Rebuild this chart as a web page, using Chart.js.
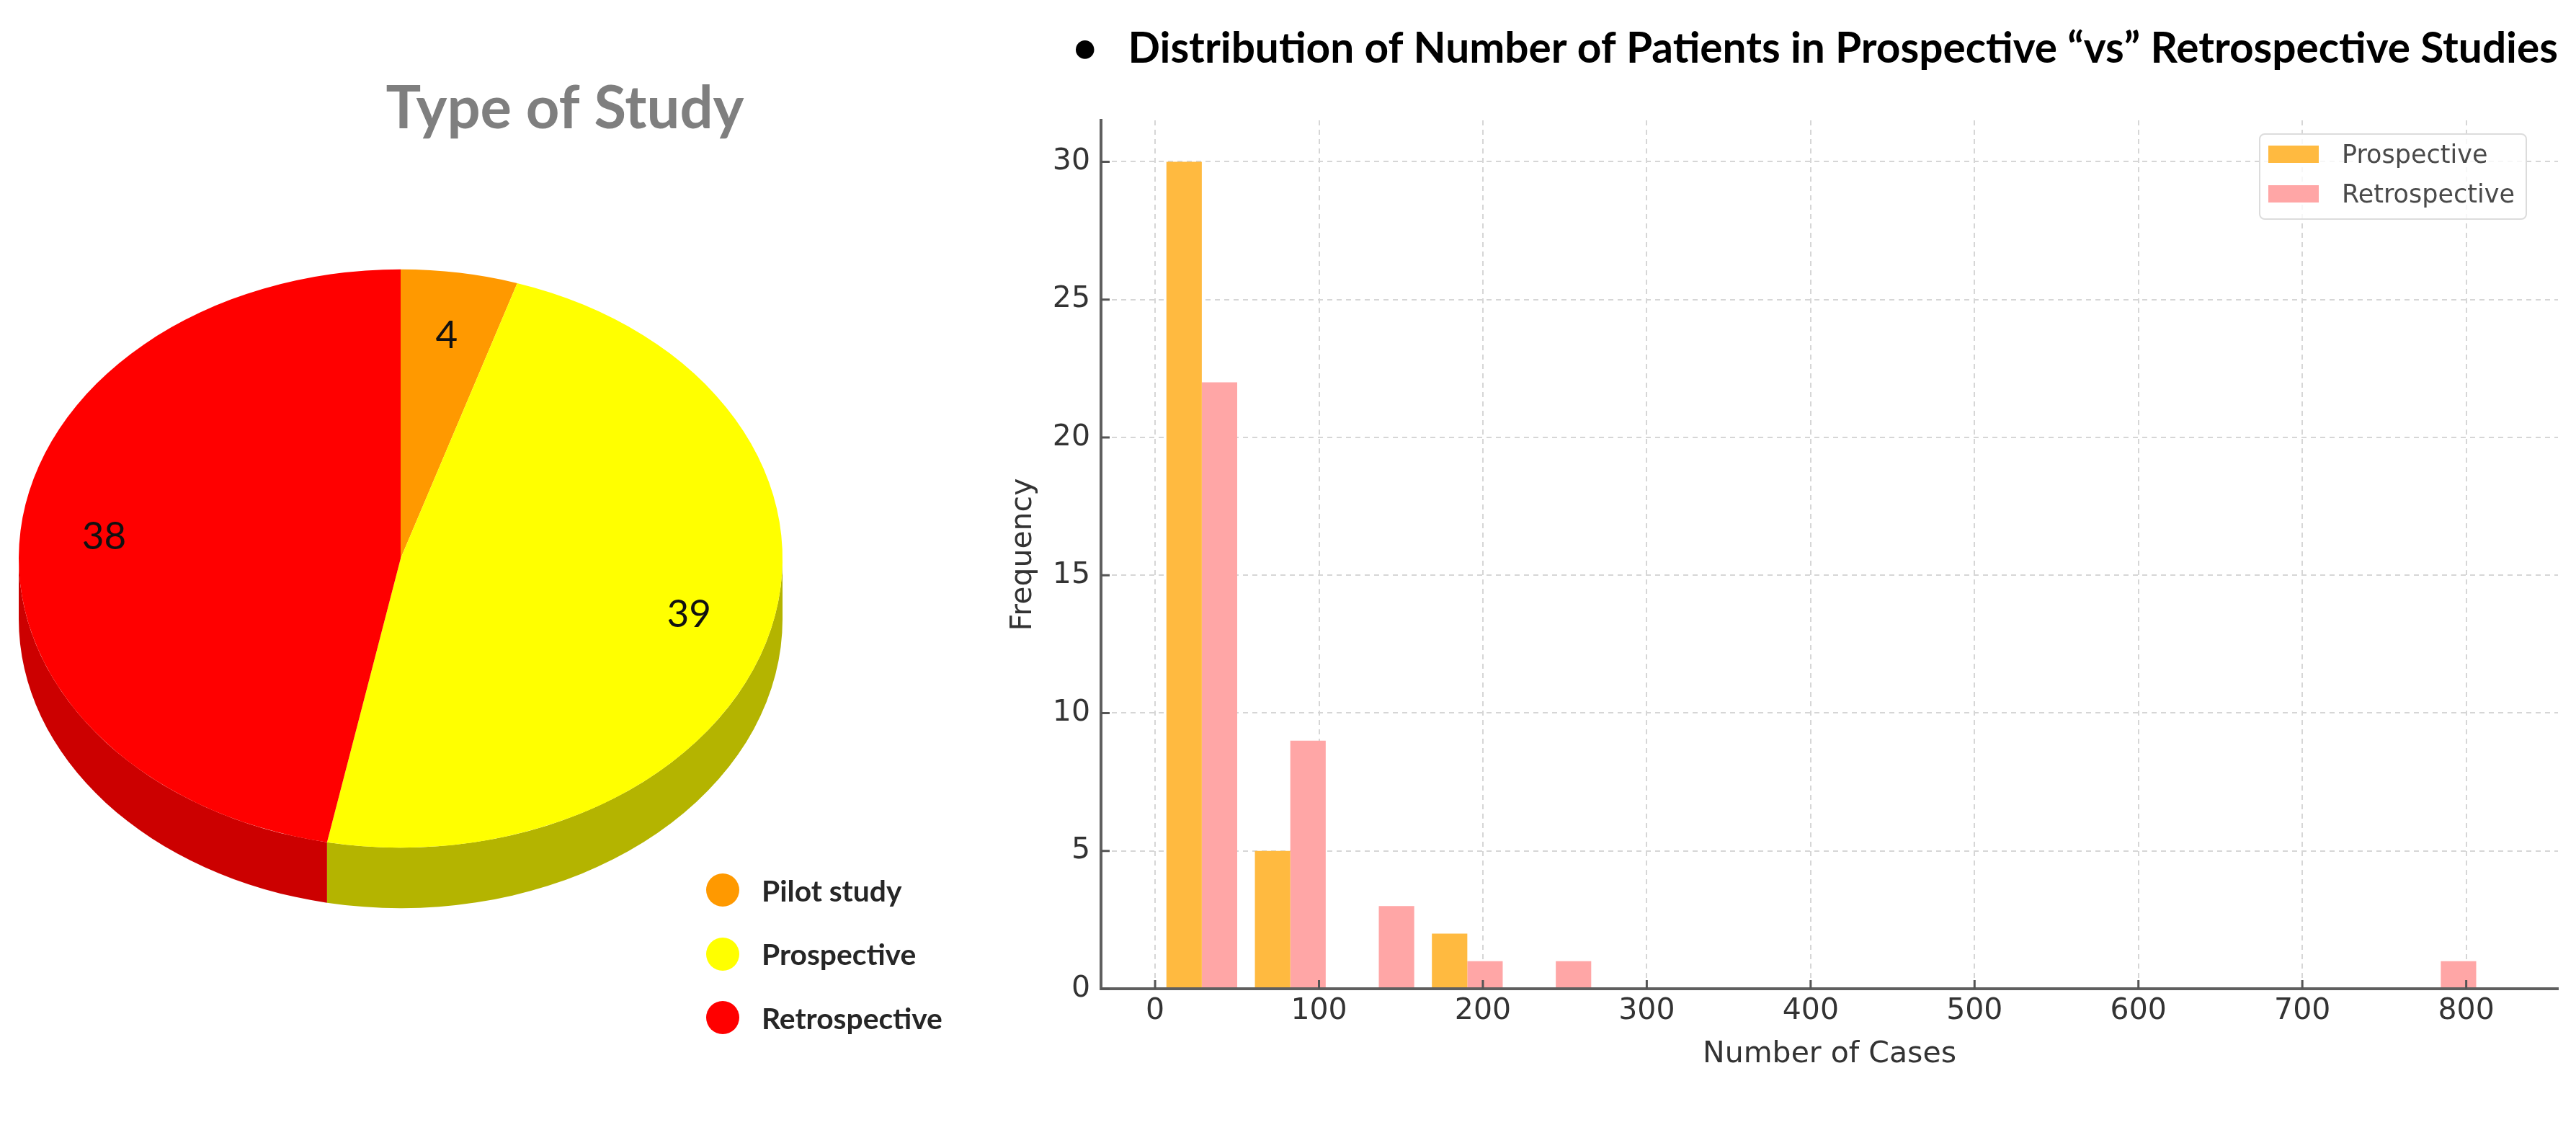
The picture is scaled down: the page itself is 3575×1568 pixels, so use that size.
<!DOCTYPE html>
<html>
<head>
<meta charset="utf-8">
<title>Type of Study / Patients per study</title>
<script src="https://cdn.jsdelivr.net/npm/chart.js@4.4.1/dist/chart.umd.min.js"></script>
<style>
  html, body { margin: 0; padding: 0; background: #fff; }
  #page { position: relative; width: 3575px; height: 1568px; overflow: hidden; background: #fff; }
  #pieChart { position: absolute; left: 0; top: 0; }
  #histChart { position: absolute; left: 1380px; top: 0; }
  .pie-legend { position: absolute; left: 980px; top: 0; font-family: Lato, sans-serif; font-weight: 700; color: #262626; }
  .pie-legend .row { position: absolute; left: 0; height: 60px; display: flex; align-items: center; white-space: nowrap; }
  .pie-legend .dot { width: 46px; height: 46px; border-radius: 50%; margin-right: 31px; flex: none; }
  .hist-legend { position: absolute; left: 3135px; top: 185px; width: 372px; height: 120px; box-sizing: border-box;
    border: 2px solid #dcdcdc; border-radius: 8px; background: rgba(255,255,255,0.8);
    font-family: "DejaVu Sans", sans-serif; font-size: 35px; color: #4a4a4a; }
  .hist-legend .row { position: absolute; left: 11px; height: 55px; display: flex; align-items: center; white-space: nowrap; }
  .hist-legend .swatch { width: 70px; height: 24px; margin-right: 32px; flex: none; }
</style>
</head>
<body>
<div id="page">
  <canvas id="pieChart" width="1568" height="1568"></canvas>
  <canvas id="histChart" width="2195" height="1568"></canvas>
  <div id="pieLegend" class="pie-legend"></div>
  <div id="histLegend" class="hist-legend"></div>
</div>
<script>
// ---- data: type of study (pie) ----
const studyTypes = ['Pilot study', 'Prospective', 'Retrospective'];
const studyCounts = [4, 39, 38];
const studyColors = ['#FF9900', '#FFFF00', '#FF0000'];
const studySideColors = ['#C87800', '#B4B400', '#CC0000'];

// ---- data: histogram of number of cases ----
const caseBinCenters = [28.5, 82.5, 136.5, 190.5, 244.5, 298.5, 352.5, 406.5, 460.5, 514.5, 568.5, 622.5, 676.5, 730.5, 784.5];
const prospectiveFreq = [30, 5, 0, 2, 0, 0, 0, 0, 0, 0, 0, 0, 0, 0, 0];
const retrospectiveFreq = [22, 9, 3, 1, 1, 0, 0, 0, 0, 0, 0, 0, 0, 0, 1];
const caseTicks = [0, 100, 200, 300, 400, 500, 600, 700, 800];
const freqTicks = [0, 5, 10, 15, 20, 25, 30];

const PIE_SHIFT_X = -228;   // pie sits left of the title centre
const PIE_CENTER_Y = 775;
const PIE_TILT = 0.757;     // squash for the 3d look
const PIE_DEPTH = 84;
const LABEL_RADIUS = 0.78;

function fitFontSize(text, weight, family, targetWidth) {
  const c = document.createElement('canvas').getContext('2d');
  c.font = weight + ' 100px ' + family;
  return 100 * targetWidth / c.measureText(text).width;
}

// ---------------- pie ----------------
const pieTitleSize = fitFontSize('Type of Study', 'bold', 'Lato', 497);
const pieTitleLine = pieTitleSize * 1.2;
const pieTitleTop = 152 - pieTitleLine / 2;

const tiltPlugin = {
  id: 'tilt3d',
  beforeDatasetsDraw(chart) {
    const ctx = chart.ctx;
    const arcs = chart.getDatasetMeta(0).data;
    const cx = arcs[0].x, cy = arcs[0].y, r = arcs[0].outerRadius;
    const ex = cx + PIE_SHIFT_X, ry = r * PIE_TILT;
    // side wall, only the front half shows
    arcs.forEach((arc, i) => {
      const a0 = Math.max(arc.startAngle, 0);
      const a1 = Math.min(arc.endAngle, Math.PI);
      if (a1 <= a0) return;
      ctx.beginPath();
      ctx.ellipse(ex, cy, r, ry, 0, a0, a1, false);
      ctx.ellipse(ex, cy + PIE_DEPTH, r, ry, 0, a1, a0, true);
      ctx.closePath();
      ctx.fillStyle = studySideColors[i];
      ctx.fill();
    });
    ctx.save();
    ctx.translate(ex, cy);
    ctx.scale(1, PIE_TILT);
    ctx.translate(-cx, -cy);
  },
  afterDatasetsDraw(chart) {
    const ctx = chart.ctx;
    ctx.restore();
    const arcs = chart.getDatasetMeta(0).data;
    const cx = arcs[0].x, cy = arcs[0].y, r = arcs[0].outerRadius;
    const ex = cx + PIE_SHIFT_X;
    ctx.save();
    ctx.font = '53px Lato';
    ctx.fillStyle = '#111';
    ctx.textAlign = 'center';
    ctx.textBaseline = 'middle';
    arcs.forEach((arc, i) => {
      const mid = (arc.startAngle + arc.endAngle) / 2;
      const d = r * LABEL_RADIUS;
      ctx.fillText(String(chart.data.datasets[0].data[i]), ex + Math.cos(mid) * d, cy + Math.sin(mid) * d * PIE_TILT);
    });
    ctx.restore();
  }
};

const pieChart = new Chart(document.getElementById('pieChart'), {
  type: 'pie',
  data: {
    labels: studyTypes,
    datasets: [{
      data: studyCounts,
      backgroundColor: studyColors,
      borderWidth: 0,
      hoverOffset: 0,
      offset: 0,
      clip: false
    }]
  },
  options: {
    responsive: false,
    animation: false,
    events: [],
    layout: { padding: { left: 254, right: 254, top: 0, bottom: 1568 - (2 * PIE_CENTER_Y - (pieTitleTop + pieTitleLine)) } },
    plugins: {
      legend: { display: false },
      tooltip: { enabled: false },
      title: {
        display: true,
        text: 'Type of Study',
        color: '#7F7F7F',
        font: { family: 'Lato', size: pieTitleSize, weight: 'bold', lineHeight: 1.2 },
        padding: { top: pieTitleTop, bottom: 0 }
      }
    }
  },
  plugins: [tiltPlugin]
});

// html legend for the pie
const pieLegend = document.getElementById('pieLegend');
pieLegend.style.fontSize = fitFontSize('Retrospective', 'bold', 'Lato', 251) + 'px';
studyTypes.forEach((label, i) => {
  const row = document.createElement('div');
  row.className = 'row';
  row.style.top = (1235 + i * 88.5 - 30) + 'px';
  const dot = document.createElement('span');
  dot.className = 'dot';
  dot.style.background = pieChart.data.datasets[0].backgroundColor[i];
  const txt = document.createElement('span');
  txt.textContent = label;
  row.appendChild(dot);
  row.appendChild(txt);
  pieLegend.appendChild(row);
});

// ---------------- histogram ----------------
const histTitleText = 'Distribution of Number of Patients in Prospective \u201Cvs\u201D Retrospective Studies';
const histTitleSize = fitFontSize(histTitleText, 'bold', 'Lato', 1985);
const mctx = document.createElement('canvas').getContext('2d');
mctx.font = 'bold ' + histTitleSize + 'px Lato';
const bulletW = mctx.measureText('\u2022').width;
const spaceW = mctx.measureText(' ').width;
const nSpaces = Math.max(1, Math.round((64 - bulletW / 2) / spaceW));
const histTitleLine = histTitleSize * 1.2;

const axisFont = { family: 'DejaVu Sans', size: 41 };

const innerTicks = {
  id: 'innerTicks',
  afterDraw(chart) {
    const { ctx, chartArea, scales: { x, y } } = chart;
    ctx.save();
    ctx.strokeStyle = '#555';
    ctx.lineWidth = 3;
    ctx.beginPath();
    x.ticks.forEach((t, i) => {
      const px = x.getPixelForTick(i);
      ctx.moveTo(px, chartArea.bottom);
      ctx.lineTo(px, chartArea.bottom - 12);
    });
    y.ticks.forEach((t, i) => {
      const py = y.getPixelForTick(i);
      ctx.moveTo(chartArea.left, py);
      ctx.lineTo(chartArea.left + 12, py);
    });
    ctx.stroke();
    ctx.restore();
  }
};

const histChart = new Chart(document.getElementById('histChart'), {
  type: 'bar',
  data: {
    datasets: [
      {
        label: 'Prospective',
        data: caseBinCenters.map((c, i) => ({ x: c, y: prospectiveFreq[i] })),
        backgroundColor: '#FFBA40',
        borderWidth: 0,
        categoryPercentage: 0.8,
        barPercentage: 1.0
      },
      {
        label: 'Retrospective',
        data: caseBinCenters.map((c, i) => ({ x: c, y: retrospectiveFreq[i] })),
        backgroundColor: '#FFA6A6',
        borderWidth: 0,
        categoryPercentage: 0.8,
        barPercentage: 1.0
      }
    ]
  },
  options: {
    responsive: false,
    animation: false,
    events: [],
    layout: { padding: { left: 0, right: 25, top: 0, bottom: 66 } },
    plugins: {
      legend: { display: false },
      tooltip: { enabled: false },
      title: {
        display: true,
        align: 'end',
        text: '\u2022' + ' '.repeat(nSpaces) + histTitleText,
        color: '#000',
        font: { family: 'Lato', size: histTitleSize, weight: 'bold', lineHeight: 1.2 },
        padding: { top: 68 - histTitleLine / 2, bottom: 167 - 68 - histTitleLine / 2 }
      }
    },
    scales: {
      x: {
        type: 'linear',
        min: -33,
        max: 856,
        offset: false,
        afterBuildTicks: s => { s.ticks = caseTicks.map(v => ({ value: v })); },
        afterFit: s => { s.height = 130; },
        grid: { color: '#d6d6d6', lineWidth: 2, drawTicks: false, offset: false },
        border: { display: true, color: '#5f5f5f', width: 4, dash: [7, 6], z: 1 },
        ticks: { color: '#333', font: axisFont, padding: 7, maxRotation: 0, autoSkip: false },
        title: { display: true, text: 'Number of Cases', color: '#333', font: axisFont, padding: { top: 0, bottom: 14 } }
      },
      y: {
        min: 0,
        max: 31.5,
        afterBuildTicks: s => { s.ticks = freqTicks.map(v => ({ value: v })); },
        afterFit: s => { s.width = 148; },
        grid: { color: '#d6d6d6', lineWidth: 2, drawTicks: false },
        border: { display: true, color: '#5f5f5f', width: 4, dash: [7, 6], z: 1 },
        ticks: { color: '#333', font: axisFont, padding: 15 },
        title: { display: true, text: 'Frequency', color: '#333', font: axisFont, padding: { top: 16, bottom: 0 } }
      }
    }
  },
  plugins: [innerTicks]
});

// html legend for the histogram, inside the plot at upper right
const histLegend = document.getElementById('histLegend');
histChart.data.datasets.forEach((ds, i) => {
  const row = document.createElement('div');
  row.className = 'row';
  row.style.top = (29 + i * 55 - 2 - 27.5) + 'px';
  const sw = document.createElement('span');
  sw.className = 'swatch';
  sw.style.background = ds.backgroundColor;
  const txt = document.createElement('span');
  txt.textContent = ds.label;
  row.appendChild(sw);
  row.appendChild(txt);
  histLegend.appendChild(row);
});
</script>
</body>
</html>
